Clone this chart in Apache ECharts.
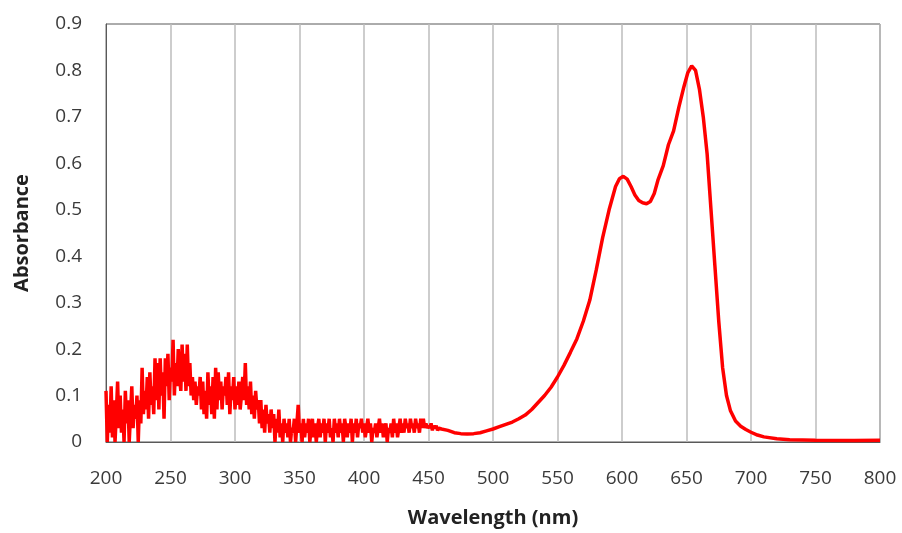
<!DOCTYPE html>
<html>
<head>
<meta charset="utf-8">
<script src="https://cdn.jsdelivr.net/npm/echarts@6/dist/echarts.min.js"></script>
<style>html,body{margin:0;padding:0;background:#fff;}#c{width:902px;height:533px;}</style>
</head>
<body>
<div id="c"></div>
<script>
// Noisy UV region: absorbance sampled every 1 nm starting at 200 nm
const noisyStartNm = 200;
const noisyAbs = [
  0.11,0.00,0.08,0.02,0.12,0.01,0.09,0.00,0.06,0.13,
  0.03,0.10,0.02,0.07,0.00,0.11,0.04,0.09,0.00,0.06,
  0.12,0.03,0.08,0.05,0.10,0.00,0.09,0.04,0.16,0.06,
  0.11,0.07,0.14,0.05,0.15,0.08,0.12,0.06,0.18,0.09,
  0.17,0.07,0.18,0.10,0.15,0.05,0.18,0.12,0.19,0.09,
  0.16,0.13,0.22,0.10,0.17,0.12,0.20,0.14,0.11,0.21,
  0.13,0.19,0.11,0.21,0.12,0.17,0.10,0.14,0.09,0.13,
  0.08,0.12,0.10,0.14,0.07,0.13,0.06,0.11,0.05,0.15,
  0.08,0.12,0.06,0.14,0.05,0.16,0.07,0.15,0.09,0.13,
  0.07,0.12,0.10,0.14,0.08,0.15,0.06,0.12,0.09,0.14,
  0.07,0.12,0.08,0.13,0.07,0.10,0.14,0.09,0.17,0.08,
  0.12,0.07,0.13,0.06,0.10,0.05,0.11,0.07,0.09,0.04,
  0.09,0.03,0.07,0.02,0.08,0.04,0.06,0.02,0.07,0.03,
  0.06,0.00,0.05,0.02,0.07,0.01,0.04,0.00,0.05,0.02,
  0.04,0.01,0.05,0.00,0.03,0.02,0.05,0.00,0.04,0.08,
  0.02,0.04,0.00,0.05,0.01,0.04,0.02,0.05,0.00,0.03,
  0.05,0.01,0.04,0.00,0.03,0.05,0.01,0.04,0.02,0.05,
  0.00,0.04,0.02,0.05,0.01,0.03,0.00,0.05,0.02,0.04,
  0.01,0.05,0.02,0.04,0.00,0.05,0.03,0.01,0.04,0.02,
  0.05,0.00,0.04,0.02,0.05,0.01,0.04,0.03,0.05,0.02,
  0.04,0.01,0.03,0.05,0.02,0.04,0.00,0.03,0.02,0.04,
  0.01,0.03,0.05,0.02,0.04,0.01,0.03,0.04,0.00,0.03,
  0.02,0.04,0.01,0.05,0.02,0.04,0.01,0.03,0.05,0.02,
  0.04,0.02,0.05,0.03,0.04,0.02,0.05,0.03,0.04,0.02,
  0.05,0.03,0.04,0.02,0.05,0.03,0.05,0.03,0.04,0.03,
  0.035,0.03,0.04,0.025,0.035,0.03,0.035,0.025,0.03,0.028
];
// Smooth visible region
const smoothNm = [460,465,470,475,480,485,490,495,500,505,510,515,520,525,530,535,540,545,550,555,560,565,570,575,580,585,590,595,598,601,604,607,610,613,616,619,622,625,628,632,636,640,644,648,651,654,657,660,663,666,669,672,675,678,681,684,688,692,696,700,705,710,720,730,750,780,800];
const smoothAbs = [0.028,0.025,0.02,0.018,0.017,0.018,0.02,0.024,0.028,0.033,0.038,0.043,0.05,0.058,0.07,0.085,0.1,0.118,0.14,0.165,0.193,0.222,0.26,0.305,0.37,0.44,0.5,0.55,0.567,0.572,0.566,0.55,0.532,0.52,0.515,0.513,0.518,0.535,0.565,0.595,0.64,0.67,0.72,0.765,0.795,0.81,0.8,0.76,0.7,0.62,0.5,0.38,0.26,0.16,0.1,0.068,0.045,0.034,0.027,0.021,0.015,0.011,0.007,0.005,0.004,0.003,0.004];
const xTicks = ['200','250','300','350','400','450','500','550','600','650','700','750','800'];
const yTicks = ['0','0.1','0.2','0.3','0.4','0.5','0.6','0.7','0.8','0.9'];

const data = [];
noisyAbs.forEach((v, i) => data.push([noisyStartNm + i, v]));
smoothNm.forEach((x, i) => data.push([x, smoothAbs[i]]));

const chart = echarts.init(document.getElementById('c'));
const font = '"Open Sans", "Noto Sans", sans-serif';
chart.setOption({
  animation: false,
  backgroundColor: '#fff',
  grid: { left: 106, right: 22, top: 24, bottom: 90, show: true, borderColor: '#595959', borderWidth: 1, containLabel: false },
  xAxis: {
    type: 'value', min: 200, max: 800, interval: 50,
    name: 'Wavelength (nm)', nameLocation: 'middle', nameGap: 66,
    nameTextStyle: { fontFamily: font, fontSize: 20, fontWeight: 'bold', color: '#222' },
    axisLine: { show: true, lineStyle: { color: '#595959', width: 1 } },
    axisTick: { show: false },
    axisLabel: { fontFamily: font, fontSize: 19, color: '#3a3a3a', margin: 27,
      formatter: v => xTicks[Math.round((v - 200) / 50)] },
    splitLine: { show: true, lineStyle: { color: '#bdbdbd', width: 1.5 } }
  },
  yAxis: {
    type: 'value', min: 0, max: 0.9, interval: 0.1,
    name: 'Absorbance', nameLocation: 'middle', nameGap: 74, nameRotate: 90,
    nameTextStyle: { fontFamily: font, fontSize: 20, fontWeight: 'bold', color: '#222' },
    axisLine: { show: true, lineStyle: { color: '#595959', width: 1 } },
    axisTick: { show: false },
    axisLabel: { fontFamily: font, fontSize: 19, color: '#3a3a3a', margin: 24,
      formatter: v => yTicks[Math.round(v * 10)] },
    splitLine: { show: false }
  },
  series: [{
    type: 'line', data: data, showSymbol: false, symbol: 'none',
    lineStyle: { color: '#ff0000', width: 3.5 },
    clip: true
  }]
});
</script>
</body>
</html>
